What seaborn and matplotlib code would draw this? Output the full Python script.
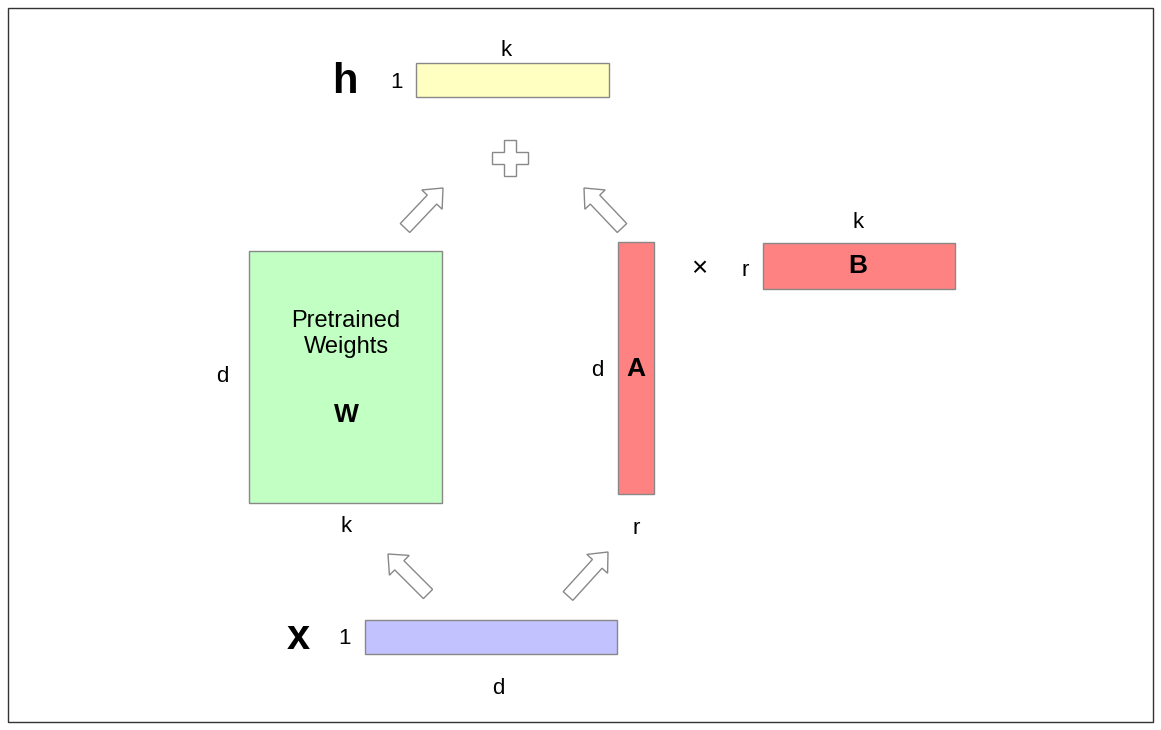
import matplotlib
matplotlib.use("Agg")
import matplotlib.pyplot as plt
import seaborn as sns
from matplotlib.patches import Rectangle, FancyArrow, Polygon

sns.set_style("white")
plt.rcParams['font.family'] = ['Liberation Sans', 'DejaVu Sans']

# Diagram content
box_names = ["h", "W", "A", "B", "x"]
box_colors = ["#FFFFC2", "#C2FFC2", "#FF8282", "#FF8282", "#C2C2FF"]
box_rects = [(416, 63, 193, 34), (249, 251, 193, 252), (618, 242, 36, 252),
             (763, 243, 192, 46), (365, 620, 252, 34)]
labels = [
    ("h", 345, 82, 30, "bold"), ("1", 396, 83, 16, "normal"), ("k", 506, 50, 16, "normal"),
    ("×", 699, 269, 20, "normal"), ("r", 745, 271, 16, "normal"), ("k", 858, 222, 16, "normal"),
    ("B", 858, 266, 19, "bold"), ("d", 222, 376, 16, "normal"),
    ("Pretrained\nWeights", 346, 334, 17, "normal"), ("W", 346, 415, 19, "bold"),
    ("k", 346, 527, 16, "normal"), ("d", 597, 371, 16, "normal"), ("A", 636, 369, 19, "bold"),
    ("r", 636, 528, 16, "normal"), ("x", 298, 638, 30, "bold"), ("1", 345, 638, 16, "normal"),
    ("d", 498, 688, 16, "normal"),
]
arrows = [(405, 228, 38, -40), (622, 228, -38, -40), (428, 594, -40, -40), (568, 596, 40, -44)]

fig = plt.figure(figsize=(11.61, 7.30), dpi=100)
ax = fig.add_axes([0, 0, 1, 1])
ax.set_xlim(0, 1161)
ax.set_ylim(730, 0)
ax.axis("off")

ax.add_patch(Rectangle((8, 8), 1145, 714, fill=False, edgecolor="#333333", lw=1))
for (x, y, w, h), c in zip(box_rects, box_colors):
    ax.add_patch(Rectangle((x, y), w, h, facecolor=c, edgecolor="#888888", lw=1))
for t, x, y, s, wt in labels:
    ax.text(x, y, t, fontsize=s, fontweight=wt, ha="center", va="center",
            linespacing=1.2, color="black")
for x, y, dx, dy in arrows:
    ax.add_patch(FancyArrow(x, y, dx, dy, width=13, head_width=28, head_length=16,
                            length_includes_head=True, facecolor="white",
                            edgecolor="#888888", lw=1))
cx, cy, a, b = 510, 158, 6, 18
cross = [(cx-a, cy-b), (cx+a, cy-b), (cx+a, cy-a), (cx+b, cy-a), (cx+b, cy+a), (cx+a, cy+a),
         (cx+a, cy+b), (cx-a, cy+b), (cx-a, cy+a), (cx-b, cy+a), (cx-b, cy-a), (cx-a, cy-a)]
ax.add_patch(Polygon(cross, closed=True, facecolor="white", edgecolor="#888888", lw=1))

fig.savefig("out.png", dpi=100)
